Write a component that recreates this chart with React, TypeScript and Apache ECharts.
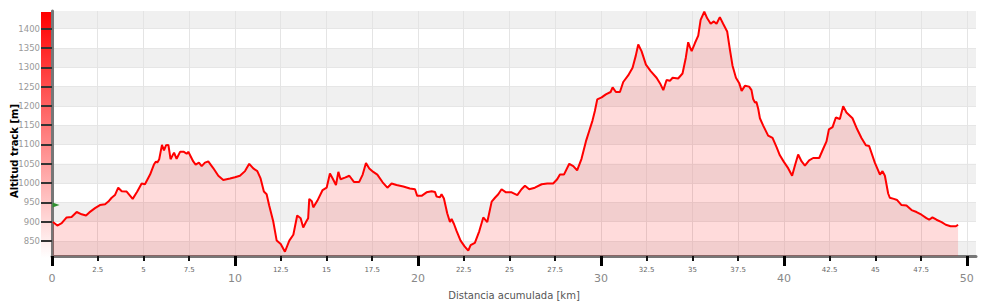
import React, { useEffect, useRef } from "react";
import * as echarts from "echarts";

const distKm = [
  0.05, 0.29, 0.53, 0.8, 1.07, 1.35, 1.62, 1.86, 2.04, 2.35, 2.62, 2.9, 3.08, 3.26, 3.44, 3.62, 3.81, 4.08, 4.41, 4.66,
  4.9, 5.08, 5.36, 5.57, 5.68, 5.75, 5.86, 6.01, 6.12, 6.23, 6.36, 6.48, 6.67, 6.81, 7.0, 7.21, 7.36, 7.45, 7.72, 7.85,
  8.03, 8.18, 8.36, 8.54, 8.81, 9.09, 9.36, 9.73, 10.0, 10.27, 10.55, 10.78, 11.0, 11.22, 11.4, 11.58, 11.73, 11.87, 12.09, 12.28,
  12.5, 12.73, 12.97, 13.19, 13.4, 13.59, 13.73, 13.88, 14.0, 14.06, 14.2, 14.28, 14.5, 14.79, 15.01, 15.19, 15.34, 15.52, 15.65, 15.77,
  16.01, 16.25, 16.5, 16.79, 16.98, 17.16, 17.34, 17.56, 17.78, 18.07, 18.33, 18.56, 18.83, 19.2, 19.56, 19.84, 19.96, 20.2, 20.47, 20.75,
  20.93, 21.02, 21.2, 21.29, 21.42, 21.6, 21.75, 21.84, 21.97, 22.11, 22.33, 22.55, 22.75, 22.88, 23.11, 23.35, 23.57, 23.79, 24.03, 24.21,
  24.39, 24.57, 24.81, 25.12, 25.43, 25.66, 25.85, 26.08, 26.39, 26.76, 27.07, 27.39, 27.61, 27.76, 27.98, 28.27, 28.49, 28.7, 28.94, 29.18,
  29.36, 29.54, 29.67, 29.8, 30.04, 30.27, 30.53, 30.64, 30.82, 31.04, 31.22, 31.49, 31.73, 31.91, 32.04, 32.22, 32.46, 32.72, 33.04, 33.26,
  33.41, 33.59, 33.77, 33.92, 34.22, 34.46, 34.64, 34.77, 34.86, 34.96, 35.14, 35.32, 35.45, 35.65, 35.81, 36.0, 36.17, 36.32, 36.5, 36.68,
  36.9, 37.05, 37.19, 37.38, 37.56, 37.69, 37.87, 38.1, 38.23, 38.32, 38.42, 38.5, 38.6, 38.69, 38.87, 39.14, 39.38, 39.6, 39.78, 40.0,
  40.24, 40.45, 40.6, 40.78, 40.97, 41.15, 41.38, 41.6, 41.93, 42.15, 42.33, 42.46, 42.66, 42.84, 43.06, 43.24, 43.42, 43.75, 44.0, 44.24,
  44.48, 44.66, 44.97, 45.25, 45.39, 45.52, 45.7, 45.79, 46.01, 46.19, 46.43, 46.7, 46.98, 47.25, 47.52, 47.79, 47.94, 48.12, 48.34, 48.62,
  48.85, 49.11, 49.4, 49.52,
];

const altitudeM = [
  899, 890, 896, 911, 912, 925, 919, 916, 924, 935, 943, 945, 952, 962, 969, 988, 979, 978, 959, 978,
  999, 997, 1022, 1048, 1056, 1053, 1062, 1099, 1085, 1098, 1099, 1062, 1079, 1063, 1081, 1081, 1076, 1081, 1056, 1048,
  1053, 1044, 1053, 1056, 1039, 1019, 1008, 1012, 1015, 1019, 1031, 1050, 1038, 1031, 1012, 978, 971, 942, 901, 851,
  842, 822, 851, 866, 916, 909, 885, 899, 909, 959, 953, 937, 954, 982, 988, 1025, 1012, 995, 1029, 1010,
  1014, 1019, 1003, 1003, 1022, 1052, 1038, 1029, 1022, 1002, 988, 999, 995, 991, 986, 984, 967, 967, 976, 979,
  977, 965, 963, 971, 960, 922, 899, 907, 894, 876, 851, 836, 825, 839, 845, 875, 911, 899, 952, 962,
  971, 984, 976, 976, 969, 984, 993, 984, 988, 997, 999, 999, 1010, 1022, 1022, 1050, 1044, 1033, 1063, 1108,
  1135, 1162, 1187, 1217, 1222, 1230, 1236, 1248, 1236, 1236, 1262, 1279, 1299, 1331, 1359, 1342, 1307, 1290, 1273, 1256,
  1241, 1267, 1265, 1273, 1271, 1284, 1325, 1365, 1353, 1342, 1363, 1382, 1423, 1444, 1427, 1413, 1419, 1413, 1430, 1413,
  1393, 1346, 1305, 1273, 1259, 1239, 1252, 1250, 1241, 1218, 1209, 1210, 1192, 1168, 1149, 1123, 1117, 1093, 1072, 1055,
  1038, 1019, 1045, 1074, 1056, 1045, 1059, 1065, 1065, 1089, 1108, 1139, 1145, 1170, 1166, 1199, 1183, 1168, 1140, 1117,
  1098, 1096, 1053, 1022, 1031, 1019, 973, 962, 959, 956, 943, 942, 930, 925, 918, 909, 905, 911, 905, 899,
  892, 888, 888, 892,
];

const majorTicksKm = [0, 10, 20, 30, 40, 50];
const minorTicksKm = [2.5, 5, 7.5, 12.5, 15, 17.5, 22.5, 25, 27.5, 32.5, 35, 37.5, 42.5, 45, 47.5];
const yTicksM = [850, 900, 950, 1000, 1050, 1100, 1150, 1200, 1250, 1300, 1350, 1400];
const startMarker = [0, 943];

const X_MIN = 0;
const X_MAX = 50.5;
const Y_MIN = 811;
const Y_MAX = 1446;

export default function App() {
  const ref = useRef<HTMLDivElement>(null);

  useEffect(() => {
    document.body.style.margin = "0";
    if (!ref.current) return;
    const chart = echarts.init(ref.current, undefined, { renderer: "svg" });
    const data = distKm.map((d, i) => [d, altitudeM[i]]);
    const font = "DejaVu Sans";
    const plain = (v: number) => String(v);

    chart.setOption({
      animation: false,
      backgroundColor: "#ffffff",
      grid: {
        left: 52,
        right: 24,
        top: 11,
        bottom: 47,
        show: true,
        backgroundColor: "#f0f0f0",
        borderWidth: 0,
      },
      xAxis: [
        {
          type: "value",
          min: X_MIN,
          max: X_MAX,
          position: "bottom",
          name: "Distancia acumulada [km]",
          nameLocation: "middle",
          nameGap: 34,
          nameTextStyle: { fontSize: 10, color: "#555", fontFamily: font },
          axisLine: { show: true, onZero: false, lineStyle: { color: "#777", width: 3 } },
          axisTick: { show: true, customValues: majorTicksKm, length: 10, lineStyle: { color: "#000", width: 3 } },
          axisLabel: { show: true, customValues: majorTicksKm, formatter: plain, fontSize: 11, color: "#888", margin: 17, fontFamily: font },
          splitLine: { show: true, lineStyle: { color: "#e4e4e4", width: 1 } },
        },
        {
          type: "value",
          min: X_MIN,
          max: X_MAX,
          position: "bottom",
          axisLine: { show: false },
          axisTick: { show: true, customValues: minorTicksKm, length: 5, lineStyle: { color: "#111", width: 2 } },
          axisLabel: { show: true, customValues: minorTicksKm, formatter: plain, fontSize: 7, color: "#666", margin: 10, fontFamily: font },
          splitLine: { show: true, lineStyle: { color: "#e4e4e4", width: 1 } },
        },
      ],
      yAxis: {
        type: "value",
        min: Y_MIN,
        max: Y_MAX,
        minInterval: 50,
        maxInterval: 50,
        axisLine: { show: true, lineStyle: { color: "#777", width: 3 } },
        axisTick: { show: true, customValues: yTicksM, length: 11, lineStyle: { color: "#333", width: 2 } },
        axisLabel: { show: true, customValues: yTicksM, formatter: plain, fontSize: 8.5, color: "#999", margin: 12, fontFamily: font },
        splitLine: { show: true, lineStyle: { color: "#e6e6e6", width: 1 } },
        splitArea: { show: true, areaStyle: { color: ["#ffffff", "#f0f0f0"] } },
      },
      graphic: {
        elements: [
          {
            type: "rect",
            z: -1,
            shape: { x: 41, y: 12, width: 10, height: 246 },
            style: {
              fill: new echarts.graphic.LinearGradient(0, 0, 0, 1, [
                { offset: 0, color: "#ff0000" },
                { offset: 1, color: "#ffffff" },
              ]),
            },
          },
          {
            type: "text",
            x: 14,
            y: 151,
            rotation: Math.PI / 2,
            style: {
              text: "Altitud track [m]",
              fontSize: 10,
              fontWeight: "bold",
              fontFamily: font,
              fill: "#000",
              align: "center",
              verticalAlign: "middle",
            },
          },
        ],
      },
      series: [
        {
          type: "line",
          xAxisIndex: 0,
          yAxisIndex: 0,
          data,
          symbol: "none",
          lineStyle: { color: "#ff0000", width: 2 },
          areaStyle: { color: "rgba(255,0,0,0.2)" },
          z: 3,
          markPoint: {
            symbol: "path://M0,0 L10,5 L0,10 Z",
            symbolSize: [7, 5],
            symbolOffset: [4, 0],
            itemStyle: { color: "#2f8f2f" },
            label: { show: false },
            data: [{ coord: startMarker }],
          },
        },
      ],
    });

    return () => chart.dispose();
  }, []);

  return <div ref={ref} style={{ width: 1000, height: 305 }} />;
}
